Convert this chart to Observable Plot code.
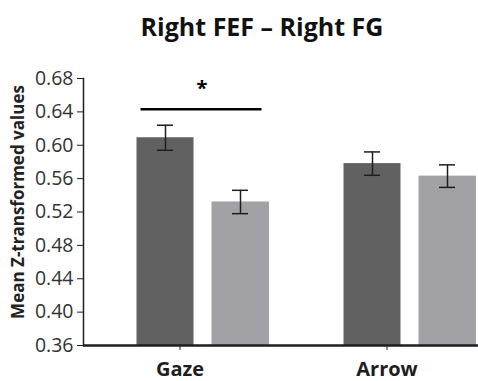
<!DOCTYPE html>
<html>
<head>
<meta charset="utf-8">
<script src="https://cdn.jsdelivr.net/npm/d3@7"></script>
<script src="https://cdn.jsdelivr.net/npm/@observablehq/plot@0.6"></script>
<style>
  html, body { margin: 0; padding: 0; background: #fff; }
  #chart svg { display: block; }
</style>
</head>
<body>
<div id="chart"></div>
<script>
const titleText = "Right FEF \u2013 Right FG";
const yLabel = "Mean Z-transformed values";
const groups = ["Gaze", "Arrow"];
const cond1Means = [0.609, 0.578];
const cond1Errs = [0.015, 0.014];
const cond2Means = [0.532, 0.563];
const cond2Errs = [0.014, 0.0135];
const yTicks = [0.36, 0.40, 0.44, 0.48, 0.52, 0.56, 0.60, 0.64, 0.68];
const yDomain = [0.36, 0.68];
const sigGroup = "Gaze";
const sigLevel = 0.643;
const sigStarLevel = 0.668;
const sigLabel = "*";

const c1 = groups.map((g, i) => ({group: g, mean: cond1Means[i], lo: cond1Means[i] - cond1Errs[i], hi: cond1Means[i] + cond1Errs[i]}));
const c2 = groups.map((g, i) => ({group: g, mean: cond2Means[i], lo: cond2Means[i] - cond2Errs[i], hi: cond2Means[i] + cond2Errs[i]}));

const dark = "#616161";
const light = "#a2a2a6";
const ink = "#1e1e1e";

const chart = Plot.plot({
  width: 478,
  height: 381,
  marginLeft: 83,
  marginRight: 0,
  marginTop: 78,
  marginBottom: 36,
  style: {fontFamily: "Open Sans", background: "#fff"},
  x: {domain: groups, range: [75.5, 489.5], padding: 0, axis: null},
  y: {domain: yDomain, axis: null},
  marks: [
    Plot.barY(c1, {x: "group", y1: yDomain[0], y2: "mean", fill: dark, insetLeft: 60.5, insetRight: 89.5}),
    Plot.barY(c2, {x: "group", y1: yDomain[0], y2: "mean", fill: light, insetLeft: 135.5, insetRight: 14}),
    Plot.ruleX(c1, {x: "group", y1: "lo", y2: "hi", dx: -14.5, stroke: ink, strokeWidth: 1.5}),
    Plot.tickY(c1, {x: "group", y: "lo", insetLeft: 81, insetRight: 110, stroke: ink, strokeWidth: 1.5}),
    Plot.tickY(c1, {x: "group", y: "hi", insetLeft: 81, insetRight: 110, stroke: ink, strokeWidth: 1.5}),
    Plot.ruleX(c2, {x: "group", y1: "lo", y2: "hi", dx: 60.5, stroke: ink, strokeWidth: 1.5}),
    Plot.tickY(c2, {x: "group", y: "lo", insetLeft: 156, insetRight: 35, stroke: ink, strokeWidth: 1.5}),
    Plot.tickY(c2, {x: "group", y: "hi", insetLeft: 156, insetRight: 35, stroke: ink, strokeWidth: 1.5}),
    Plot.tickY([{group: sigGroup, y: sigLevel}], {x: "group", y: "y", insetLeft: 64.5, insetRight: 21.5, stroke: "#000", strokeWidth: 2.5}),
    Plot.text([{group: sigGroup, y: sigStarLevel, t: sigLabel}], {x: "group", y: "y", text: "t", dx: 22, fontSize: 20, fontWeight: "bold", fill: "#000"}),
    Plot.axisY({ticks: yTicks, tickFormat: d3.format(".2f"), tickSize: 6, tickPadding: 4, fontSize: 19.5, color: "#333", stroke: ink, label: null}),
    Plot.frame({anchor: "left", stroke: ink, strokeWidth: 1.5}),
    Plot.ruleY([yDomain[0]], {stroke: ink, strokeWidth: 2.5}),
    Plot.axisX({tickSize: 5, tickPadding: 11, fontSize: 20, fontWeight: "bold", color: ink, stroke: ink, label: null}),
    Plot.text([yLabel], {frameAnchor: "left", textAnchor: "middle", rotate: -90, dx: -65, dy: -10, fontSize: 17, fontWeight: "bold", fill: "#222"}),
    Plot.text([titleText], {frameAnchor: "top", dx: -19, dy: -60, fontSize: 25, fontWeight: "bold", fill: "#111"})
  ]
});
document.getElementById("chart").appendChild(chart);
</script>
</body>
</html>
